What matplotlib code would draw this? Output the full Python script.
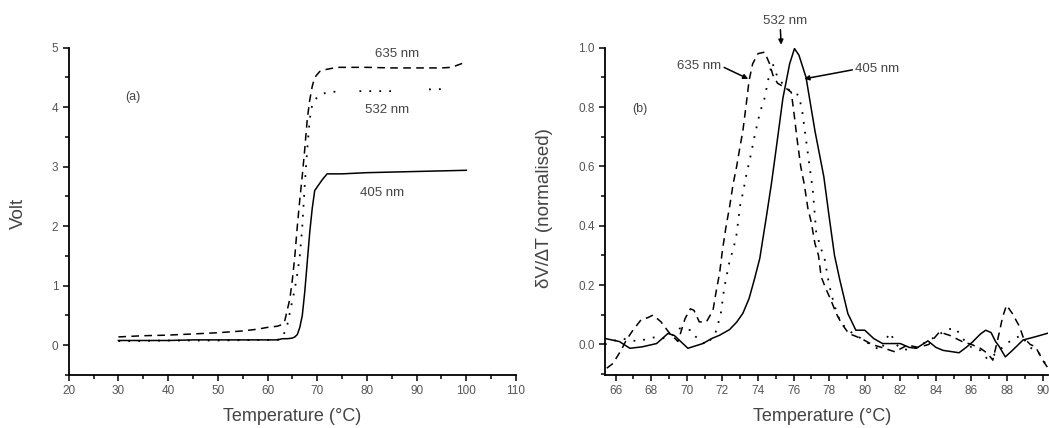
import numpy as np
import matplotlib
matplotlib.use("Agg")
import matplotlib.pyplot as plt
from matplotlib.ticker import MultipleLocator

plt.rcParams['font.family'] = ['Liberation Sans', 'DejaVu Sans']

# ---------------- Panel (a): Volt vs Temperature ----------------
t405 = [30, 35, 40, 45, 50, 55, 60, 62, 63, 64, 65, 65.5, 66, 66.5, 67, 67.5, 68, 68.5,
        69, 69.5, 70, 71, 72, 73, 75, 80, 85, 90, 95, 100]
v405 = [0.08, 0.08, 0.08, 0.09, 0.09, 0.09, 0.09, 0.09, 0.11, 0.11, 0.12, 0.14, 0.18, 0.3,
        0.5, 0.9, 1.4, 1.9, 2.3, 2.6, 2.66, 2.78, 2.88, 2.88, 2.88, 2.9, 2.91, 2.92, 2.93, 2.94]

t635 = [30, 35, 40, 45, 50, 55, 58, 60, 62, 63, 63.5, 64, 64.5, 65, 65.5, 66, 66.5, 67,
        67.5, 68, 68.5, 69, 69.5, 70.5, 71.5, 74, 80, 85, 90, 95, 97, 98, 99, 100]
v635 = [0.14, 0.16, 0.17, 0.19, 0.21, 0.24, 0.27, 0.30, 0.32, 0.35, 0.42, 0.6, 0.78, 1.1,
        1.5, 2.0, 2.45, 2.85, 3.3, 3.8, 4.12, 4.35, 4.5, 4.6, 4.63, 4.67, 4.67, 4.66, 4.66,
        4.66, 4.67, 4.7, 4.73, 4.77]

t532 = [30, 33, 40, 50, 60, 62, 63, 64, 64.5, 65, 65.5, 66, 66.5, 67, 67.5, 68, 68.5, 69,
        70, 71, 72, 73, 74, np.nan, 78.5, 80, 82, 84, 86, np.nan, 92.5, 94, 96]
v532 = [0.07, 0.07, 0.08, 0.08, 0.09, 0.09, 0.12, 0.35, 0.55, 0.75, 0.95, 1.2, 1.5, 2.0,
        2.7, 3.3, 3.8, 4.05, 4.17, 4.22, 4.25, 4.26, 4.26, np.nan, 4.27, 4.27, 4.27, 4.27,
        4.27, np.nan, 4.3, 4.3, 4.31]

# ---------------- Panel (b): normalised derivative ----------------
t405b = [65.4, 66.2, 66.8, 67.5, 68.3, 68.94, 69.3, 70.06, 70.9, 71.4, 71.84, 72.4, 72.8,
         73.15, 73.5, 73.8, 74.1, 74.47, 74.75, 75.0, 75.4, 75.78, 76.05, 76.3, 76.7, 77.2,
         77.7, 78.0, 78.3, 78.6, 79.05, 79.5, 80.0, 80.5, 81.0, 81.5, 82.0, 82.5, 82.9,
         83.55, 84.0, 84.4, 85.3, 85.7, 86.07, 86.5, 86.8, 87.1, 87.35, 87.57, 87.9, 88.3,
         88.9, 89.6, 90.3]
v405b = [0.02, 0.01, -0.013, -0.008, 0.003, 0.037, 0.03, -0.013, 0.003, 0.02, 0.031, 0.05,
         0.075, 0.105, 0.155, 0.22, 0.29, 0.43, 0.54, 0.65, 0.83, 0.946, 0.997, 0.975, 0.9,
         0.72, 0.565, 0.43, 0.3, 0.217, 0.104, 0.048, 0.048, 0.02, 0.003, 0.003, 0.003,
         -0.01, -0.013, 0.012, -0.01, -0.02, -0.028, -0.01, 0.009, 0.035, 0.048, 0.04, 0.01,
         -0.008, -0.042, -0.02, 0.015, 0.026, 0.038]

t532b = [65.4, 65.8, 66.3, 66.8, 67.3, 67.8, 68.3, 68.8, 69.3, 69.6, 70.0, 70.26, 70.5,
         71.1, 71.6, 71.9, 72.1, 72.4, 72.6, 72.77, 73.0, 73.15, 73.34, 73.6, 73.8, 74.1,
         74.37, 74.6, 74.8, 75.1, 75.5, 75.9, 76.3, 76.5, 76.7, 76.9, 77.08, 77.27, 77.5,
         77.74, 78.0, 78.3, 78.6, 79.0, 79.4, 79.8, 80.3, 80.9, 81.4, 81.9, 82.5, 83.2,
         84.1, 84.6, 85.1, 85.5, 86.0, 86.5, 86.9, 87.4, 87.9, 88.4, 88.8, 89.3, 89.8, 90.3]
v532b = [0.0, 0.01, 0.02, 0.015, 0.01, 0.02, 0.025, 0.02, 0.035, 0.054, 0.05, 0.048, 0.026,
         -0.002, 0.037, 0.1, 0.19, 0.28, 0.32, 0.36, 0.47, 0.51, 0.57, 0.64, 0.7, 0.78,
         0.83, 0.9, 0.95, 0.9, 0.87, 0.85, 0.84, 0.78, 0.69, 0.6, 0.52, 0.38, 0.33, 0.29,
         0.2, 0.13, 0.08, 0.05, 0.035, 0.02, 0.0, -0.02, 0.04, -0.01, -0.02, 0.0, 0.03,
         0.05, 0.055, 0.02, -0.01, -0.02, -0.05, -0.03, 0.0, 0.02, 0.03, -0.01, -0.03, -0.08]

t635b = [65.5, 65.85, 66.3, 66.6, 66.97, 67.44, 67.8, 68.1, 68.55, 69.0, 69.5, 69.9, 70.2,
         70.4, 70.7, 71.1, 71.47, 71.66, 71.84, 72.0, 72.2, 72.4, 72.6, 72.8, 72.97, 73.15,
         73.34, 73.5, 73.7, 74.0, 74.37, 74.65, 74.84, 75.1, 75.4, 75.65, 75.87, 76.05,
         76.2, 76.4, 76.6, 76.8, 77.0, 77.2, 77.4, 77.55, 77.8, 78.1, 78.4, 78.7, 79.1,
         79.8, 80.4, 81.1, 81.7, 82.4, 83.0, 83.6, 84.2, 84.8, 85.5, 86.0, 86.5, 86.9, 87.2,
         87.57, 87.75, 87.97, 88.3, 88.7, 88.9, 89.3, 89.6, 90.0, 90.3]
v635b = [-0.08, -0.064, -0.02, 0.015, 0.048, 0.084, 0.09, 0.099, 0.076, 0.04, 0.01, 0.087,
         0.12, 0.115, 0.076, 0.076, 0.115, 0.183, 0.24, 0.317, 0.396, 0.463, 0.54, 0.6,
         0.66, 0.72, 0.81, 0.89, 0.946, 0.98, 0.985, 0.946, 0.907, 0.88, 0.87, 0.86, 0.85,
         0.766, 0.69, 0.6, 0.54, 0.46, 0.41, 0.34, 0.3, 0.228, 0.19, 0.149, 0.104, 0.07,
         0.037, 0.02, 0.0, -0.013, -0.025, -0.002, -0.01, 0.0, 0.042, 0.03, 0.009, 0.0,
         -0.013, -0.03, -0.053, 0.042, 0.093, 0.132, 0.104, 0.06, 0.025, 0.0, -0.008,
         -0.053, -0.08]

xticks_a = [20, 30, 40, 50, 60, 70, 80, 90, 100, 110]
yticks_a = [0, 1, 2, 3, 4, 5]
xticks_b = [66, 68, 70, 72, 74, 76, 78, 80, 82, 84, 86, 88, 90]
yticks_b = [0.0, 0.2, 0.4, 0.6, 0.8, 1.0]

W, H = 1049, 428
fig = plt.figure(figsize=(W / 100, H / 100), dpi=100)
fig.patch.set_facecolor('white')

def frac(x0, y0, x1, y1):
    return [x0 / W, 1 - y1 / H, (x1 - x0) / W, (y1 - y0) / H]

axA = fig.add_axes(frac(68.7, 47.7, 516, 375))
axB = fig.add_axes(frac(605, 47.7, 1048, 375))

DASH = (0, (5, 3.5))
DOT = (0, (1, 4.5))
TXT = '#444444'

def style(ax):
    for s in ['top', 'right']:
        ax.spines[s].set_visible(False)
    for s in ['left', 'bottom']:
        ax.spines[s].set_linewidth(1.3)
    ax.tick_params(which='major', direction='out', length=4.5, width=1.1,
                   labelsize=8.5, labelcolor='#555555', pad=3)
    ax.tick_params(which='minor', direction='out', length=3, width=1.1)

def labels(ax, xlabel, xx, ylabel, yx, yy, ysize):
    ax.set_xlabel(xlabel, fontsize=13, color=TXT)
    ax.xaxis.label.set_va('center')
    ax.xaxis.set_label_coords(xx, -0.128)
    ax.set_ylabel(ylabel, fontsize=ysize, color=TXT)
    ax.yaxis.label.set_va('center')
    ax.yaxis.set_label_coords(yx, yy)

ANN = 9.5

# Panel (a)
axA.plot(t405, v405, color='black', lw=1.1, ls='-')
axA.plot(t635, v635, color='black', lw=1.1, ls=DASH)
axA.plot(t532, v532, color='black', lw=1.3, ls=DOT)
axA.set_xlim(20, 110)
axA.set_ylim(-0.5, 5)
axA.set_xticks(xticks_a)
axA.set_yticks(yticks_a)
axA.xaxis.set_minor_locator(MultipleLocator(5))
axA.yaxis.set_minor_locator(MultipleLocator(0.5))
style(axA)
labels(axA, 'Temperature (°C)', 0.4985, 'Volt', -0.113, 0.495, 13.5)
axA.text(32.9, 4.17, '(a)', fontsize=9, ha='center', va='center', color=TXT)
axA.text(86, 4.89, '635 nm', fontsize=ANN, ha='center', va='center', color=TXT)
axA.text(84, 3.95, '532 nm', fontsize=ANN, ha='center', va='center', color=TXT)
axA.text(83, 2.55, '405 nm', fontsize=ANN, ha='center', va='center', color=TXT)

# Panel (b)
axB.plot(t405b, v405b, color='black', lw=1.1, ls='-')
axB.plot(t635b, v635b, color='black', lw=1.1, ls=DASH)
axB.plot(t532b, v532b, color='black', lw=1.3, ls=DOT)
axB.set_xlim(65.4, 90.3)
axB.set_ylim(-0.103, 1.0)
axB.set_xticks(xticks_b)
axB.set_yticks(yticks_b)
axB.set_yticklabels([f'{v:.1f}' for v in yticks_b])
axB.xaxis.set_minor_locator(MultipleLocator(1))
axB.yaxis.set_minor_locator(MultipleLocator(0.1))
style(axB)
labels(axB, 'Temperature (°C)', 0.49, 'δV/∆T (normalised)', -0.136, 0.51, 13.5)
axB.text(67.35, 0.795, '(b)', fontsize=9, ha='center', va='center', color=TXT)

ap = dict(arrowstyle='-|>', lw=1.1, color='black', mutation_scale=7, shrinkA=0, shrinkB=0)
axB.annotate('532 nm', xy=(75.3, 1.01), xytext=(75.5, 1.09), fontsize=ANN, color=TXT,
             ha='center', va='center', annotation_clip=False,
             arrowprops=dict(ap, relpos=(0.4, 0.0)))
axB.annotate('635 nm', xy=(73.45, 0.895), xytext=(70.7, 0.938), fontsize=ANN, color=TXT,
             ha='center', va='center', arrowprops=dict(ap, relpos=(1.0, 0.5)))
axB.annotate('405 nm', xy=(76.6, 0.895), xytext=(80.7, 0.927), fontsize=ANN, color=TXT,
             ha='center', va='center', arrowprops=dict(ap, relpos=(0.0, 0.5)))

fig.savefig('out.png', dpi=100, facecolor='white')
